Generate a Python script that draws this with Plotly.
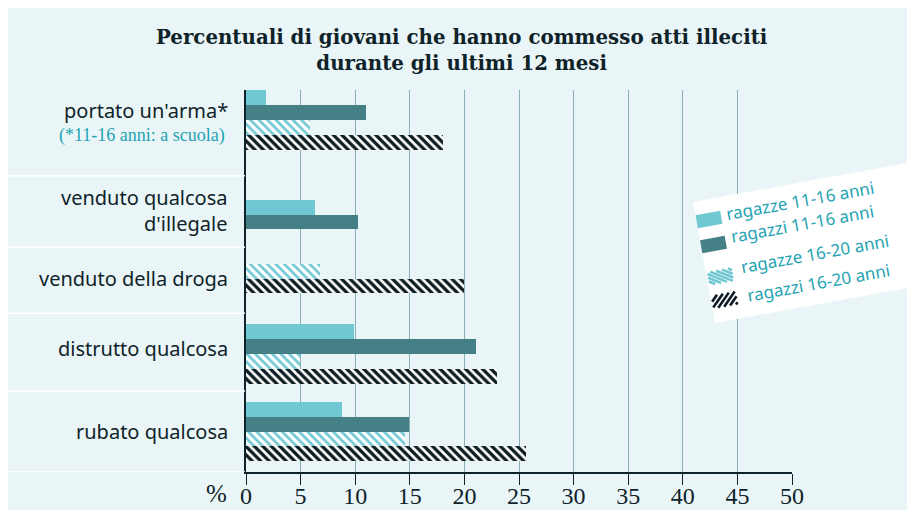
import math
import plotly.graph_objects as go

# ---------------- data ----------------
categories = ["portato un'arma*", "venduto qualcosa<br>d'illegale", "venduto della droga",
              "distrutto qualcosa", "rubato qualcosa"]
series_names = ["ragazze 11-16 anni", "ragazzi 11-16 anni", "ragazze 16-20 anni", "ragazzi 16-20 anni"]
ragazze_11_16 = [1.8, 6.3, None, 9.9, 8.8]
ragazzi_11_16 = [11.0, 10.3, None, 21.1, 14.9]
ragazze_16_20 = [5.9, None, 6.8, 4.9, 14.6]
ragazzi_16_20 = [18.0, None, 20.0, 23.0, 25.6]
x_ticks = [0, 5, 10, 15, 20, 25, 30, 35, 40, 45, 50]
title_text = "Percentuali di giovani che hanno commesso atti illeciti<br>durante gli ultimi 12 mesi"
footnote = "(*11-16 anni: a scuola)"

# ---------------- layout constants ----------------
W, H = 907, 510
L, R, T, B = 246, 792, 90, 472
BAR_H = 14.8
GROUP_CENTER = [30, 124.5, 188.5, 264, 341.5]     # offsets (px) from plot top
SEPARATORS = [85.7, 157.3, 223.3, 301, 382]
LABEL_Y = [20, 120, 188, 258, 341]

BG = "#eaf5f7"
DARK = "#0e2329"
TEAL_TXT = "#1fa3b3"
C_LIGHT = "#70c8d3"
C_DARK = "#468087"
C_BLACK = "#0d1c22"
GRID = "#88aeb5"
NARROW = "Liberation Sans Narrow"

def px2x(px):
    return (px - L) / (R - L)

def py2y(py):
    return (B - py) / (B - T)

values = [ragazze_11_16, ragazzi_11_16, ragazze_16_20, ragazzi_16_20]
styles = [
    dict(color=C_LIGHT),
    dict(color=C_DARK),
    dict(color=C_LIGHT, pattern=dict(shape="\\", size=6, solidity=0.45, fgcolor=C_LIGHT,
                                     bgcolor="#ffffff", fillmode="replace")),
    dict(color=C_BLACK, pattern=dict(shape="\\", size=6, solidity=0.55, fgcolor=C_BLACK,
                                     bgcolor="#ffffff", fillmode="replace")),
]

# positions: bars present in each group stacked and centred on group centre
pos = [[None] * len(categories) for _ in values]
for gi in range(len(categories)):
    present = [si for si in range(len(values)) if values[si][gi] is not None]
    n = len(present)
    for k, si in enumerate(present):
        pos[si][gi] = GROUP_CENTER[gi] + (k - (n - 1) / 2) * BAR_H

fig = go.Figure()
for si, name in enumerate(series_names):
    xs = [v for v in values[si] if v is not None]
    ys = [pos[si][gi] for gi in range(len(categories)) if values[si][gi] is not None]
    m = dict(styles[si])
    m["line"] = dict(width=0)
    fig.add_trace(go.Bar(x=xs, y=ys, orientation="h", width=BAR_H, name=name,
                         marker=m, showlegend=False, hoverinfo="x"))

shapes = []
annotations = []

# white margins (top / left)
shapes.append(dict(type="rect", xref="paper", yref="paper", x0=px2x(-5), x1=px2x(W + 5),
                   y0=py2y(8), y1=py2y(-5), fillcolor="#ffffff", line=dict(width=0), layer="below"))
shapes.append(dict(type="rect", xref="paper", yref="paper", x0=px2x(-5), x1=px2x(8),
                   y0=py2y(H + 5), y1=py2y(-5), fillcolor="#ffffff", line=dict(width=0), layer="below"))

# white separators in label area
for s in SEPARATORS:
    shapes.append(dict(type="line", xref="paper", yref="y", x0=px2x(8), x1=px2x(L - 1),
                       y0=s, y1=s, line=dict(color="#ffffff", width=1.6)))

# category labels
for gi, cat in enumerate(categories):
    annotations.append(dict(text=cat, xref="paper", yref="y", x=px2x(230), y=LABEL_Y[gi],
                            xanchor="right", yanchor="middle", showarrow=False, align="right",
                            font=dict(family="Noto Sans", size=20, color=DARK)))
annotations.append(dict(text=footnote, xref="paper", yref="y", x=px2x(227), y=45,
                        xanchor="right", yanchor="middle", showarrow=False,
                        font=dict(family="Liberation Serif", size=18, color=TEAL_TXT)))

# title
annotations.append(dict(text=title_text, xref="paper", yref="paper", x=px2x(462), y=py2y(50),
                        xanchor="center", yanchor="middle", showarrow=False,
                        font=dict(family="DejaVu Serif", size=19.8, color=DARK, weight="bold")))

# % label
annotations.append(dict(text="%", xref="paper", yref="paper", x=px2x(229), y=py2y(494),
                        xanchor="right", yanchor="middle", showarrow=False,
                        font=dict(family=NARROW, size=25, color=DARK)))

# ---------------- rotated legend ----------------
ANG = math.radians(10.3)

def rot(cx, cy, du, dv):
    x = cx + du * math.cos(ANG) + dv * math.sin(ANG)
    y = cy - du * math.sin(ANG) + dv * math.cos(ANG)
    return x, y

def path_from(points, close=True):
    s = "M " + " L ".join(f"{px2x(x):.5f},{py2y(y):.5f}" for x, y in points)
    return s + (" Z" if close else "")

# white box
box = [(693, 202), (910, 162.5), (910, 287.5), (715, 323)]
shapes.append(dict(type="path", xref="paper", yref="paper", path=path_from(box),
                   fillcolor="#ffffff", line=dict(width=0), layer="above"))

SW_W, SW_H = 25, 13
sw_centers = [(709, 219.5), (713.5, 244.5), (720.5, 276.5), (724.5, 300)]
txt_centers = [(800, 200), (802.5, 223.5), (815, 253.5), (818.5, 282)]

def rect_pts(cx, cy):
    return [rot(cx, cy, -SW_W / 2, -SW_H / 2), rot(cx, cy, SW_W / 2, -SW_H / 2),
            rot(cx, cy, SW_W / 2, SW_H / 2), rot(cx, cy, -SW_W / 2, SW_H / 2)]

def stripes(cx, cy, k, step):
    # lines u = c + k*v clipped to the swatch rectangle
    segs = []
    hw, hh = SW_W / 2, SW_H / 2
    c = -hw - abs(k) * hh
    while c <= hw + abs(k) * hh:
        pts = []
        for v in [-hh + i * (2 * hh) / 200 for i in range(201)]:
            u = c + k * v
            if -hw <= u <= hw:
                pts.append((u, v))
        if len(pts) > 1:
            segs.append((rot(cx, cy, *pts[0]), rot(cx, cy, *pts[-1])))
        c += step
    return segs

for i, (cx, cy) in enumerate(sw_centers):
    if i < 2:
        shapes.append(dict(type="path", xref="paper", yref="paper", path=path_from(rect_pts(cx, cy)),
                           fillcolor=[C_LIGHT, C_DARK][i], line=dict(width=0), layer="above"))
    else:
        col = C_LIGHT if i == 2 else C_BLACK
        k = 1.6 if i == 2 else -1.0
        for a, b in stripes(cx, cy, k, 6.0):
            shapes.append(dict(type="path", xref="paper", yref="paper", path=path_from([a, b], close=False),
                               line=dict(color=col, width=2.6), layer="above"))

for i, (tx, ty) in enumerate(txt_centers):
    annotations.append(dict(text=series_names[i], xref="paper", yref="paper", x=px2x(tx), y=py2y(ty),
                            xanchor="center", yanchor="middle", showarrow=False, textangle=-10.3,
                            font=dict(family="Noto Sans", size=17, color=TEAL_TXT)))

fig.update_layout(
    width=W, height=H, autosize=False,
    margin=dict(l=L, r=W - R, t=T, b=H - B, pad=0, autoexpand=False),
    paper_bgcolor=BG, plot_bgcolor=BG,
    barmode="overlay", bargap=0,
    shapes=shapes, annotations=annotations,
    xaxis=dict(range=[0, 50], tickvals=x_ticks, ticktext=[str(t) for t in x_ticks],
               showgrid=True, gridcolor=GRID, gridwidth=1.3, zeroline=False,
               showline=True, linecolor=DARK, linewidth=1.6, automargin=False,
               ticks="outside", ticklen=11, tickwidth=1.3, tickcolor=DARK,
               ticklabelstandoff=-10,
               tickfont=dict(family=NARROW, size=24, color=DARK),
               fixedrange=True),
    yaxis=dict(range=[B - T, 0], showticklabels=False, showgrid=False, zeroline=False,
               showline=True, linecolor=DARK, linewidth=2, ticks="", fixedrange=True,
               automargin=False),
)

fig.write_html("out.html", config={"displayModeBar": False},
               post_script="document.body.style.margin='0px';document.body.style.overflow='hidden';")
